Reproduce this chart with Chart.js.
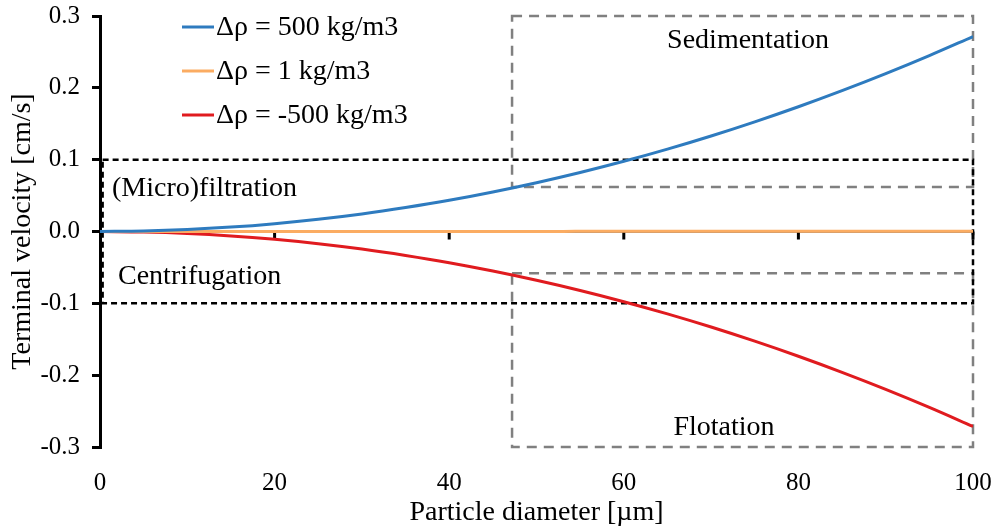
<!DOCTYPE html>
<html lang="en">
<head>
    <meta charset="utf-8" />
    <title>Terminal velocity</title>
    <script src="https://cdn.jsdelivr.net/npm/chart.js"></script>
    <style>
        html, body { margin: 0; padding: 0; background: #fff; }
        #wrap { width: 1000px; height: 529px; position: relative; }
    </style>
</head>
<body>
    <div id="wrap"><canvas id="grafico"></canvas></div>

    <script>
        // particle diameter [µm]
        const diametros = [0, 5, 10, 15, 20, 25, 30, 35, 40, 45, 50, 55, 60, 65, 70, 75, 80, 85, 90, 95, 100];

        // terminal velocity [cm/s] per density difference
        const v500 = [0, 0.0007, 0.0027, 0.0061, 0.0109, 0.0170, 0.0244, 0.0333, 0.0434, 0.0550, 0.0679,
            0.0821, 0.0977, 0.1147, 0.1330, 0.1527, 0.1737, 0.1961, 0.2198, 0.2449, 0.2714];
        const v1 = [0, 0, 0, 0, 0, 0, 0, 0.0001, 0.0001, 0.0001, 0.0001,
            0.0002, 0.0002, 0.0002, 0.0003, 0.0003, 0.0003, 0.0004, 0.0004, 0.0005, 0.0005];
        const vMenos500 = [0, -0.0007, -0.0027, -0.0061, -0.0109, -0.0170, -0.0244, -0.0333, -0.0434, -0.0550, -0.0679,
            -0.0821, -0.0977, -0.1147, -0.1330, -0.1527, -0.1737, -0.1961, -0.2198, -0.2449, -0.2714];

        const rotulos = ['Δρ = 500 kg/m3', 'Δρ = 1 kg/m3', 'Δρ = -500 kg/m3'];
        const cores = ['#2e7bbf', '#fbac62', '#e01b1f'];

        const xTicks = [0, 20, 40, 60, 80, 100];
        const yTicks = [-0.3, -0.2, -0.1, 0, 0.1, 0.2, 0.3];

        // separation regions [xMin, xMax, yMin, yMax]
        const caixaFiltracao = [0.3, 100, -0.1, 0.1];
        const caixaSedimentacao = [47.2, 100, 0.062, 0.3];
        const caixaFlotacao = [47.2, 100, -0.3, -0.058];

        const fonte = '"Liberation Serif", "Times New Roman", serif';

        const pontos = (ys) => diametros.map((d, i) => ({ x: d, y: ys[i] }));

        function caixa(ctx, c, xs, ys, cor, dash) {
            const x0 = xs.getPixelForValue(c[0]), x1 = xs.getPixelForValue(c[1]);
            const y0 = ys.getPixelForValue(c[3]), y1 = ys.getPixelForValue(c[2]);
            ctx.save();
            ctx.strokeStyle = cor;
            ctx.lineWidth = 2.5;
            ctx.setLineDash(dash);
            ctx.strokeRect(x0, y0, x1 - x0, y1 - y0);
            ctx.restore();
        }

        // boxes, zero line, x ticks, region names and legend
        const extras = {
            id: 'extras',
            beforeDatasetsDraw(chart) {
                const ctx = chart.ctx;
                const xs = chart.scales.x, ys = chart.scales.y;
                caixa(ctx, caixaSedimentacao, xs, ys, '#808080', [10, 7]);
                caixa(ctx, caixaFlotacao, xs, ys, '#808080', [10, 7]);
                caixa(ctx, caixaFiltracao, xs, ys, '#000', [6, 4]);

                const y0 = ys.getPixelForValue(0);
                ctx.save();
                ctx.strokeStyle = '#000';
                ctx.lineWidth = 2;
                ctx.beginPath();
                ctx.moveTo(xs.getPixelForValue(0), y0);
                ctx.lineTo(xs.getPixelForValue(100), y0);
                ctx.stroke();
                ctx.lineWidth = 3;
                xTicks.slice(1).forEach(t => {
                    const px = xs.getPixelForValue(t);
                    ctx.beginPath();
                    ctx.moveTo(px, y0);
                    ctx.lineTo(px, y0 + 8);
                    ctx.stroke();
                });
                ctx.restore();
            },
            afterDatasetsDraw(chart) {
                const ctx = chart.ctx;
                ctx.save();
                ctx.fillStyle = '#000';
                ctx.textBaseline = 'middle';
                ctx.font = '28px ' + fonte;
                ctx.textAlign = 'center';
                ctx.fillText('Sedimentation', 748, 41);
                ctx.fillText('Flotation', 724, 428);
                ctx.textAlign = 'left';
                ctx.fillText('(Micro)filtration', 112, 189);
                ctx.fillText('Centrifugation', 118, 277);

                // legend
                const linhasY = [27, 71, 115];
                chart.data.datasets.forEach((ds, i) => {
                    ctx.strokeStyle = ds.borderColor;
                    ctx.lineWidth = 3;
                    ctx.beginPath();
                    ctx.moveTo(182, linhasY[i]);
                    ctx.lineTo(214, linhasY[i]);
                    ctx.stroke();
                    ctx.fillText(ds.label, 216, linhasY[i] + 1);
                });
                ctx.restore();
            }
        };

        new Chart(document.getElementById('grafico'), {
            type: 'line',
            data: {
                datasets: [
                    { label: rotulos[0], data: pontos(v500), borderColor: cores[0] },
                    { label: rotulos[1], data: pontos(v1), borderColor: cores[1] },
                    { label: rotulos[2], data: pontos(vMenos500), borderColor: cores[2] }
                ].map(ds => Object.assign(ds, {
                    borderWidth: 3,
                    pointRadius: 0,
                    cubicInterpolationMode: 'monotone',
                    fill: false
                }))
            },
            options: {
                responsive: true,
                maintainAspectRatio: false,
                animation: false,
                layout: { padding: { top: 16, right: 27, left: 0, bottom: 0 } },
                plugins: { legend: { display: false }, tooltip: { enabled: false } },
                scales: {
                    x: {
                        type: 'linear',
                        min: 0,
                        max: 100,
                        afterBuildTicks: (s) => { s.ticks = xTicks.map(v => ({ value: v })); },
                        afterFit: (s) => { s.height = 82; s.paddingLeft = 0; s.paddingRight = 0; },
                        border: { display: false },
                        grid: { display: false },
                        ticks: { color: '#000', font: { family: fonte, size: 25 }, padding: 13, maxRotation: 0 },
                        title: { display: true, text: 'Particle diameter [µm]', color: '#000', font: { family: fonte, size: 28 }, padding: { top: 0, bottom: 0 } }
                    },
                    y: {
                        min: -0.3,
                        max: 0.3,
                        afterBuildTicks: (s) => { s.ticks = yTicks.map(v => ({ value: v })); },
                        afterFit: (s) => { s.width = 100; s.paddingTop = 0; s.paddingBottom = 0; },
                        border: { display: true, color: '#000', width: 3 },
                        grid: { drawOnChartArea: false, drawTicks: true, tickLength: 8, color: '#000', lineWidth: 3 },
                        ticks: {
                            color: '#000',
                            font: { family: fonte, size: 25 },
                            padding: 12,
                            callback: (v) => v.toFixed(1)
                        },
                        title: { display: true, text: 'Terminal velocity [cm/s]', color: '#000', font: { family: fonte, size: 28 }, padding: { top: 6, bottom: 0 } }
                    }
                }
            },
            plugins: [extras]
        });
    </script>
</body>
</html>
